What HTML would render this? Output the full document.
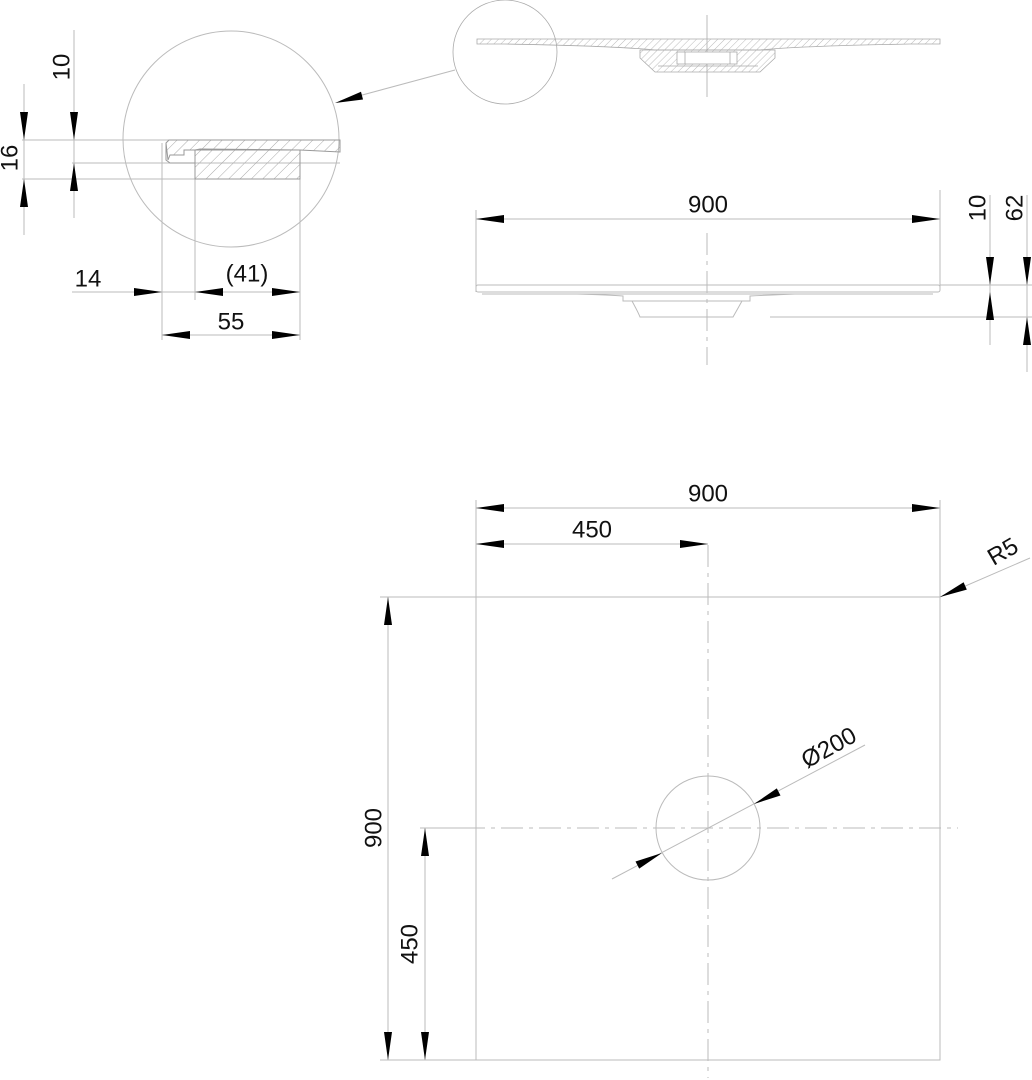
<!DOCTYPE html>
<html><head><meta charset="utf-8"><style>
html,body{margin:0;padding:0;background:#fff;}
svg{display:block;}
text{font-family:"Liberation Sans",Arial,sans-serif;font-size:24px;fill:#111;text-anchor:middle;dominant-baseline:central;}
</style></head><body>
<svg width="1032" height="1080" viewBox="0 0 1032 1080" xmlns="http://www.w3.org/2000/svg">
<defs>
<pattern id="h" width="8" height="8" patternUnits="userSpaceOnUse" patternTransform="rotate(45)">
<line x1="0" y1="0" x2="0" y2="8" stroke="#aaa" stroke-width="1"/>
</pattern>
<pattern id="h2" width="5" height="5" patternUnits="userSpaceOnUse" patternTransform="rotate(45)">
<line x1="0" y1="0" x2="0" y2="5" stroke="#bbb" stroke-width="1"/>
</pattern>
</defs>
<g stroke="#bbb" stroke-width="1" fill="none">
<circle cx="231" cy="139" r="108"/>
<line x1="22" y1="140" x2="340" y2="140"/>
<line x1="72" y1="163" x2="340" y2="163"/>
<line x1="22" y1="179" x2="300" y2="179"/>
<line x1="24" y1="84" x2="24" y2="235"/>
<line x1="74" y1="30" x2="74" y2="218"/>
<line x1="162" y1="143" x2="162" y2="340"/>
<line x1="195" y1="179" x2="195" y2="300"/>
<line x1="300" y1="150" x2="300" y2="340"/>
<line x1="72" y1="292" x2="300" y2="292"/>
<line x1="162" y1="335" x2="300" y2="335"/>
<line x1="455" y1="70" x2="340" y2="101"/>
</g>
<g stroke="#999" stroke-width="1">
<path d="M166,143 L169,140 L340,140 L340,152 L300,150 L200,149 L195,150 L184,150 L184,155 L170,155 L168,160 Z" fill="url(#h)"/>
<rect x="195" y="150" width="105" height="29" fill="url(#h)"/>
<path d="M166,143 L166,160 L170,163 L195,163" fill="none"/>
</g>
<g stroke="#aaa" stroke-width="0.8" fill="none">
<circle cx="505" cy="52" r="52"/>
<line x1="707" y1="15" x2="707" y2="97"/>
<path d="M477,39 L940,39 L940,44 L910,44 Q800,46 760,50 L655,50 Q615,46 505,44 L477,44 Z" fill="url(#h2)"/>
<path d="M640,50 L775,50 L775,58 L760,72 L655,72 L640,58 Z" fill="url(#h2)"/>
<rect x="677" y="52" width="60" height="12" fill="#fff"/>
<line x1="685" y1="52" x2="685" y2="64"/><line x1="730" y1="52" x2="730" y2="64"/>
<line x1="658" y1="66" x2="758" y2="66"/>
</g>
<g stroke="#bbb" stroke-width="1" fill="none">
<line x1="476" y1="219" x2="940" y2="219"/>
<line x1="476" y1="210" x2="476" y2="292"/>
<line x1="940" y1="190" x2="940" y2="290"/>
<rect x="476" y="285" width="464" height="7" rx="2"/>
<line x1="482" y1="294" x2="933" y2="294"/>
<path d="M577,294 Q610,295 623,296 L623,301 L632,301 Q638,312 640,317 L733,317 Q737,310 742,301 L750,301 L750,296 Q770,295 795,294"/>
<line x1="623" y1="301" x2="750" y2="301"/>
<line x1="940" y1="285" x2="1032" y2="285"/>
<line x1="770" y1="317" x2="1032" y2="317"/>
<line x1="990" y1="195" x2="990" y2="345"/>
<line x1="1027" y1="195" x2="1027" y2="372"/>
<line x1="707" y1="233" x2="707" y2="365" stroke-dasharray="22 6 4 6"/>
</g>
<g stroke="#bbb" stroke-width="1" fill="none">
<rect x="476" y="597" width="464" height="463"/>
<line x1="380" y1="597" x2="476" y2="597"/>
<line x1="380" y1="1060" x2="476" y2="1060"/>
<line x1="420" y1="828" x2="476" y2="828"/>
<line x1="476" y1="500" x2="476" y2="597"/>
<line x1="940" y1="500" x2="940" y2="597"/>
<line x1="476" y1="508" x2="940" y2="508"/>
<line x1="476" y1="544" x2="708" y2="544"/>
<line x1="388" y1="597" x2="388" y2="1060"/>
<line x1="425" y1="828" x2="425" y2="1060"/>
<line x1="708" y1="545" x2="708" y2="1078" stroke-dasharray="22 6 4 6"/>
<line x1="425" y1="828" x2="958" y2="828" stroke-dasharray="22 6 4 6"/>
<circle cx="708" cy="828" r="52"/>
<line x1="612" y1="879" x2="865" y2="745"/>
<line x1="1030" y1="558" x2="940" y2="597"/>
</g>
<g fill="#000">
<polygon points="24,140 20,112 28,112"/>
<polygon points="24,179 20,207 28,207"/>
<polygon points="74,140 70,112 78,112"/>
<polygon points="74,163 70,191 78,191"/>
<polygon points="162,292 134,288 134,296"/>
<polygon points="195,292 223,288 223,296"/>
<polygon points="300,292 272,288 272,296"/>
<polygon points="162,335 190,331 190,339"/>
<polygon points="300,335 272,331 272,339"/>
<polygon points="335,103 363,99.5 361,91.7"/>
<polygon points="476,219 504,215 504,223"/>
<polygon points="940,219 912,215 912,223"/>
<polygon points="990,285 986,257 994,257"/>
<polygon points="990,292 986,320 994,320"/>
<polygon points="1027,285 1023,257 1031,257"/>
<polygon points="1027,317 1023,345 1031,345"/>
<polygon points="476,508 504,504 504,512"/>
<polygon points="940,508 912,504 912,512"/>
<polygon points="476,544 504,540 504,548"/>
<polygon points="708,544 680,540 680,548"/>
<polygon points="388,597 384,625 392,625"/>
<polygon points="388,1060 384,1032 392,1032"/>
<polygon points="425,828 421,856 429,856"/>
<polygon points="425,1060 421,1032 429,1032"/>
<polygon points="940,597 963.6,582.2 966.8,589.6"/>
<polygon points="754,804 776.8,788.4 780.5,795.5"/>
<polygon points="662,853 635.5,861.5 639.2,868.6"/>
</g>
<text transform="translate(62,67) rotate(-90)">10</text>
<text transform="translate(10,158) rotate(-90)">16</text>
<text x="88" y="279">14</text>
<text x="247" y="274">(41)</text>
<text x="231" y="322">55</text>
<text x="708" y="205">900</text>
<text transform="translate(978,208) rotate(-90)">10</text>
<text transform="translate(1015,208) rotate(-90)">62</text>
<text x="708" y="494">900</text>
<text x="592" y="530">450</text>
<text transform="translate(1003,552) rotate(-30)">R5</text>
<text transform="translate(829,748) rotate(-29)">Ø200</text>
<text transform="translate(374,828) rotate(-90)">900</text>
<text transform="translate(410,944) rotate(-90)">450</text>
</svg>
</body></html>
